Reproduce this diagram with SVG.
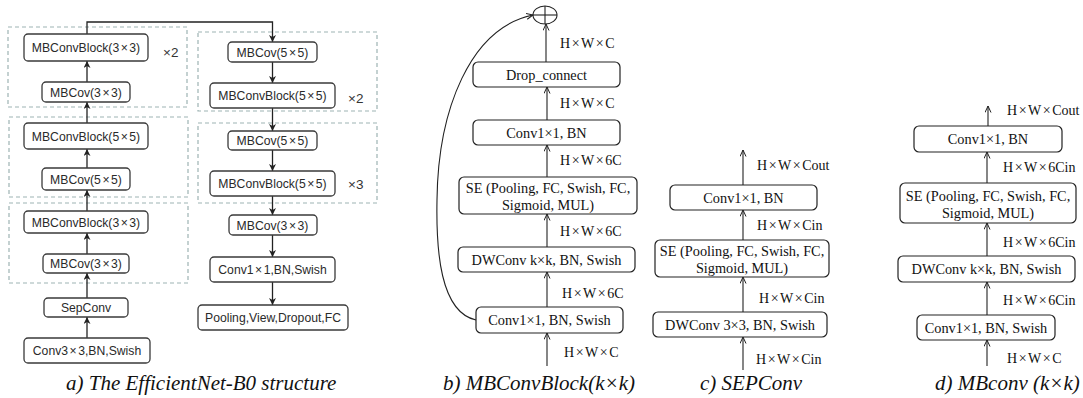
<svg xmlns="http://www.w3.org/2000/svg" width="1083" height="398" viewBox="0 0 1083 398">
  <style>
    .bg { fill: #ffffff; }
    .boxa { fill: #ffffff; stroke: #3a3a3a; stroke-width: 1.3; }
    .box { fill: #ffffff; stroke: #222222; stroke-width: 1.2; }
    .grp { fill: none; stroke: #9db3b3; stroke-width: 1.2; stroke-dasharray: 4 3; }
    .ta { font-family: "Liberation Sans", Arial, sans-serif; font-size: 12.2px; fill: #2a2a2a; text-anchor: middle; }
    .rep { font-family: "Liberation Sans", Arial, sans-serif; font-size: 13.5px; fill: #333333; }
    .tb { font-family: "Liberation Serif", "Times New Roman", serif; font-size: 14.3px; fill: #111111; text-anchor: middle; }
    .lb { font-family: "Liberation Serif", "Times New Roman", serif; font-size: 14px; fill: #111111; }
    .cap { font-family: "Liberation Serif", "Times New Roman", serif; font-size: 21px; font-style: italic; fill: #111111; }
    .ca { fill: none; stroke: #222222; stroke-width: 1.3; marker-end: url(#headA); }
    .cb { fill: none; stroke: #222222; stroke-width: 1.1; marker-end: url(#headB); }
    .ln { fill: none; stroke: #222222; stroke-width: 1.1; }
  </style>
  <defs>
    <marker id="headA" markerUnits="userSpaceOnUse" markerWidth="8" markerHeight="8" refX="7" refY="3.5" orient="auto">
      <path d="M0,0 L7,3.5 L0,7 L2,3.5 Z" fill="#222222"/>
    </marker>
    <marker id="headB" markerUnits="userSpaceOnUse" markerWidth="8" markerHeight="8" refX="6.5" refY="3" orient="auto">
      <path d="M0,0 L6.5,3 L0,6" fill="none" stroke="#222222" stroke-width="1"/>
    </marker>
  </defs>
  <rect class="bg" x="0" y="0" width="1083" height="398"/>

  <!-- (a) EfficientNet-B0: repeat groups -->
  <g id="groups-a">
    <rect class="grp" x="8" y="27" width="179" height="80"/>
    <rect class="grp" x="9" y="117" width="179" height="80"/>
    <rect class="grp" x="9" y="203" width="179" height="80"/>
    <rect class="grp" x="198" y="32" width="179" height="79"/>
    <rect class="grp" x="198" y="123" width="179" height="80"/>
    <text class="rep" x="163" y="56.5">×2</text>
    <text class="rep" x="348" y="103">×2</text>
    <text class="rep" x="348" y="189">×3</text>
  </g>

  <!-- (a) connectors -->
  <g id="connectors-a">
    <line class="ca" x1="87" y1="338" x2="87" y2="317"/>
    <line class="ca" x1="87" y1="298" x2="87" y2="273"/>
    <line class="ca" x1="87" y1="254" x2="87" y2="233"/>
    <line class="ca" x1="87" y1="211" x2="87" y2="190"/>
    <line class="ca" x1="87" y1="168" x2="87" y2="149"/>
    <line class="ca" x1="87" y1="123" x2="87" y2="102"/>
    <line class="ca" x1="87" y1="82" x2="87" y2="61"/>
    <path class="ca" d="M87,34 V22 H272.5 V42"/>
    <line class="ca" x1="272.5" y1="62" x2="272.5" y2="83"/>
    <line class="ca" x1="272.5" y1="108" x2="272.5" y2="131"/>
    <line class="ca" x1="272.5" y1="150" x2="272.5" y2="171"/>
    <line class="ca" x1="272.5" y1="196" x2="272.5" y2="215"/>
    <line class="ca" x1="272.5" y1="235" x2="272.5" y2="257"/>
    <line class="ca" x1="272.5" y1="282" x2="272.5" y2="305"/>
  </g>

  <!-- (a) nodes, left column -->
  <g id="a-stem"><rect class="boxa" x="24" y="338" width="126" height="25" rx="4"/><text class="ta" x="87" y="355">Conv3<tspan dx="1.5">×</tspan><tspan dx="1.5">3,BN,Swish</tspan></text></g>
  <g id="a-sepconv"><rect class="boxa" x="44" y="298" width="84" height="19" rx="4"/><text class="ta" x="86" y="312">SepConv</text></g>
  <g id="a-mbcov33-1"><rect class="boxa" x="43" y="254" width="86" height="19" rx="4"/><text class="ta" x="86" y="268">MBCov(3<tspan dx="1.5">×</tspan><tspan dx="1.5">3)</tspan></text></g>
  <g id="a-block33-1"><rect class="boxa" x="24" y="211" width="124" height="22" rx="4"/><text class="ta" x="86" y="226.5">MBConvBlock(3<tspan dx="1.5">×</tspan><tspan dx="1.5">3)</tspan></text></g>
  <g id="a-mbcov55-1"><rect class="boxa" x="42" y="168" width="88" height="22" rx="4"/><text class="ta" x="86" y="183.5">MBCov(5<tspan dx="1.5">×</tspan><tspan dx="1.5">5)</tspan></text></g>
  <g id="a-block55-1"><rect class="boxa" x="24" y="123" width="124" height="26" rx="4"/><text class="ta" x="86" y="140.5">MBConvBlock(5<tspan dx="1.5">×</tspan><tspan dx="1.5">5)</tspan></text></g>
  <g id="a-mbcov33-2"><rect class="boxa" x="42" y="82" width="88" height="20" rx="4"/><text class="ta" x="86" y="96.5">MBCov(3<tspan dx="1.5">×</tspan><tspan dx="1.5">3)</tspan></text></g>
  <g id="a-block33-2"><rect class="boxa" x="24" y="34" width="124" height="27" rx="4"/><text class="ta" x="86" y="52">MBConvBlock(3<tspan dx="1.5">×</tspan><tspan dx="1.5">3)</tspan></text></g>

  <!-- (a) nodes, right column -->
  <g id="a-mbcov55-2"><rect class="boxa" x="228" y="42" width="89" height="20" rx="4"/><text class="ta" x="272.5" y="56.5">MBCov(5<tspan dx="1.5">×</tspan><tspan dx="1.5">5)</tspan></text></g>
  <g id="a-block55-2"><rect class="boxa" x="210" y="83" width="125" height="25" rx="4"/><text class="ta" x="272.5" y="100">MBConvBlock(5<tspan dx="1.5">×</tspan><tspan dx="1.5">5)</tspan></text></g>
  <g id="a-mbcov55-3"><rect class="boxa" x="228" y="131" width="89" height="19" rx="4"/><text class="ta" x="272.5" y="145">MBCov(5<tspan dx="1.5">×</tspan><tspan dx="1.5">5)</tspan></text></g>
  <g id="a-block55-3"><rect class="boxa" x="210" y="171" width="125" height="25" rx="4"/><text class="ta" x="272.5" y="188">MBConvBlock(5<tspan dx="1.5">×</tspan><tspan dx="1.5">5)</tspan></text></g>
  <g id="a-mbcov33-3"><rect class="boxa" x="229" y="215" width="88" height="20" rx="4"/><text class="ta" x="272.5" y="229.5">MBCov(3<tspan dx="1.5">×</tspan><tspan dx="1.5">3)</tspan></text></g>
  <g id="a-head"><rect class="boxa" x="210" y="257" width="125" height="25" rx="4"/><text class="ta" x="272.5" y="274">Conv1<tspan dx="1.5">×</tspan><tspan dx="1.5">1,BN,Swish</tspan></text></g>
  <g id="a-classifier"><rect class="boxa" x="198" y="305" width="150" height="25" rx="4"/><text class="ta" x="273" y="322">Pooling,View,Dropout,FC</text></g>
  <text class="cap" x="66" y="390">a) The EfficientNet-B0 structure</text>

  <!-- (b) MBConvBlock(k×k) -->
  <g id="connectors-b">
    <line class="cb" x1="547" y1="366" x2="547" y2="333"/>
    <line class="cb" x1="547" y1="307" x2="547" y2="272"/>
    <line class="cb" x1="547" y1="247" x2="547" y2="214"/>
    <line class="cb" x1="547" y1="177" x2="547" y2="145"/>
    <line class="cb" x1="547" y1="120" x2="547" y2="87"/>
    <line class="cb" x1="546" y1="62" x2="546" y2="24"/>
    <path class="cb" d="M476,320 C440,312 436,250 437,200 C438,110 470,28 533,15"/>
  </g>
  <g id="b-add">
    <ellipse cx="545" cy="15" rx="12" ry="9" fill="#ffffff" stroke="#222222" stroke-width="1.1"/>
    <line class="ln" x1="545" y1="6" x2="545" y2="24"/>
    <line class="ln" x1="533" y1="15" x2="557" y2="15"/>
  </g>
  <g id="b-drop"><rect class="box" x="473" y="62" width="147" height="25" rx="5"/><text class="tb" x="546.5" y="79.5">Drop_connect</text></g>
  <g id="b-project"><rect class="box" x="473" y="120" width="147" height="25" rx="5"/><text class="tb" x="546.5" y="137.5">Conv1×1, BN</text></g>
  <g id="b-se"><rect class="box" x="459" y="177" width="178" height="37" rx="5"/><text class="tb" x="548" y="193">SE (Pooling, FC, Swish, FC,</text><text class="tb" x="548" y="210">Sigmoid, MUL)</text></g>
  <g id="b-dw"><rect class="box" x="458" y="247" width="177" height="25" rx="5"/><text class="tb" x="546.5" y="264.5">DWConv k×k, BN, Swish</text></g>
  <g id="b-expand"><rect class="box" x="476" y="307" width="147" height="26" rx="5"/><text class="tb" x="549.5" y="325">Conv1×1, BN, Swish</text></g>
  <g id="b-labels">
    <text class="lb" x="560" y="48">H<tspan dx="1.5">×</tspan><tspan dx="1.5">W</tspan><tspan dx="1.5">×</tspan><tspan dx="1.5">C</tspan></text>
    <text class="lb" x="560" y="108">H<tspan dx="1.5">×</tspan><tspan dx="1.5">W</tspan><tspan dx="1.5">×</tspan><tspan dx="1.5">C</tspan></text>
    <text class="lb" x="560" y="165">H<tspan dx="1.5">×</tspan><tspan dx="1.5">W</tspan><tspan dx="1.5">×</tspan><tspan dx="1.5">6C</tspan></text>
    <text class="lb" x="560" y="236">H<tspan dx="1.5">×</tspan><tspan dx="1.5">W</tspan><tspan dx="1.5">×</tspan><tspan dx="1.5">6C</tspan></text>
    <text class="lb" x="562" y="298">H<tspan dx="1.5">×</tspan><tspan dx="1.5">W</tspan><tspan dx="1.5">×</tspan><tspan dx="1.5">6C</tspan></text>
    <text class="lb" x="564" y="357">H<tspan dx="1.5">×</tspan><tspan dx="1.5">W</tspan><tspan dx="1.5">×</tspan><tspan dx="1.5">C</tspan></text>
  </g>
  <text class="cap" x="443" y="390">b) MBConvBlock(k×k)</text>

  <!-- (c) SEPConv -->
  <g id="connectors-c">
    <line class="cb" x1="743" y1="370" x2="743" y2="337"/>
    <line class="cb" x1="743" y1="312" x2="743" y2="277"/>
    <line class="cb" x1="743" y1="240" x2="743" y2="210"/>
    <line class="cb" x1="743" y1="185" x2="743" y2="150"/>
  </g>
  <g id="c-project"><rect class="box" x="670" y="185" width="147" height="25" rx="5"/><text class="tb" x="743.5" y="202.5">Conv1×1, BN</text></g>
  <g id="c-se"><rect class="box" x="655" y="240" width="174" height="37" rx="5"/><text class="tb" x="742" y="255.5">SE (Pooling, FC, Swish, FC,</text><text class="tb" x="742" y="272.5">Sigmoid, MUL)</text></g>
  <g id="c-dw"><rect class="box" x="653" y="312" width="174" height="25" rx="5"/><text class="tb" x="740" y="329.5">DWConv 3×3, BN, Swish</text></g>
  <g id="c-labels">
    <text class="lb" x="757" y="170">H<tspan dx="1.5">×</tspan><tspan dx="1.5">W</tspan><tspan dx="1.5">×</tspan><tspan dx="1.5">Cout</tspan></text>
    <text class="lb" x="757" y="230">H<tspan dx="1.5">×</tspan><tspan dx="1.5">W</tspan><tspan dx="1.5">×</tspan><tspan dx="1.5">Cin</tspan></text>
    <text class="lb" x="759" y="303">H<tspan dx="1.5">×</tspan><tspan dx="1.5">W</tspan><tspan dx="1.5">×</tspan><tspan dx="1.5">Cin</tspan></text>
    <text class="lb" x="756" y="364">H<tspan dx="1.5">×</tspan><tspan dx="1.5">W</tspan><tspan dx="1.5">×</tspan><tspan dx="1.5">Cin</tspan></text>
  </g>
  <text class="cap" x="700" y="390">c) SEPConv</text>

  <!-- (d) MBconv(k×k) -->
  <g id="connectors-d">
    <line class="cb" x1="987" y1="366" x2="987" y2="340"/>
    <line class="cb" x1="987" y1="315" x2="987" y2="282"/>
    <line class="cb" x1="987" y1="256" x2="987" y2="223"/>
    <line class="cb" x1="987" y1="183" x2="987" y2="152"/>
    <line class="cb" x1="988" y1="126" x2="988" y2="106"/>
  </g>
  <g id="d-project"><rect class="box" x="914" y="126" width="148" height="26" rx="5"/><text class="tb" x="988" y="144">Conv1×1, BN</text></g>
  <g id="d-se"><rect class="box" x="900" y="183" width="176" height="40" rx="5"/><text class="tb" x="988" y="200.5">SE (Pooling, FC, Swish, FC,</text><text class="tb" x="988" y="217.5">Sigmoid, MUL)</text></g>
  <g id="d-dw"><rect class="box" x="898" y="256" width="177" height="26" rx="5"/><text class="tb" x="986.5" y="274">DWConv k×k, BN, Swish</text></g>
  <g id="d-expand"><rect class="box" x="917" y="315" width="138" height="25" rx="5"/><text class="tb" x="986" y="332.5">Conv1×1, BN, Swish</text></g>
  <g id="d-labels">
    <text class="lb" x="1007" y="115">H<tspan dx="1.5">×</tspan><tspan dx="1.5">W</tspan><tspan dx="1.5">×</tspan><tspan dx="1.5">Cout</tspan></text>
    <text class="lb" x="1003" y="172">H<tspan dx="1.5">×</tspan><tspan dx="1.5">W</tspan><tspan dx="1.5">×</tspan><tspan dx="1.5">6Cin</tspan></text>
    <text class="lb" x="1003" y="247">H<tspan dx="1.5">×</tspan><tspan dx="1.5">W</tspan><tspan dx="1.5">×</tspan><tspan dx="1.5">6Cin</tspan></text>
    <text class="lb" x="1003" y="305">H<tspan dx="1.5">×</tspan><tspan dx="1.5">W</tspan><tspan dx="1.5">×</tspan><tspan dx="1.5">6Cin</tspan></text>
    <text class="lb" x="1007" y="363">H<tspan dx="1.5">×</tspan><tspan dx="1.5">W</tspan><tspan dx="1.5">×</tspan><tspan dx="1.5">C</tspan></text>
  </g>
  <text class="cap" x="935" y="390">d) MBconv (k×k)</text>
</svg>
